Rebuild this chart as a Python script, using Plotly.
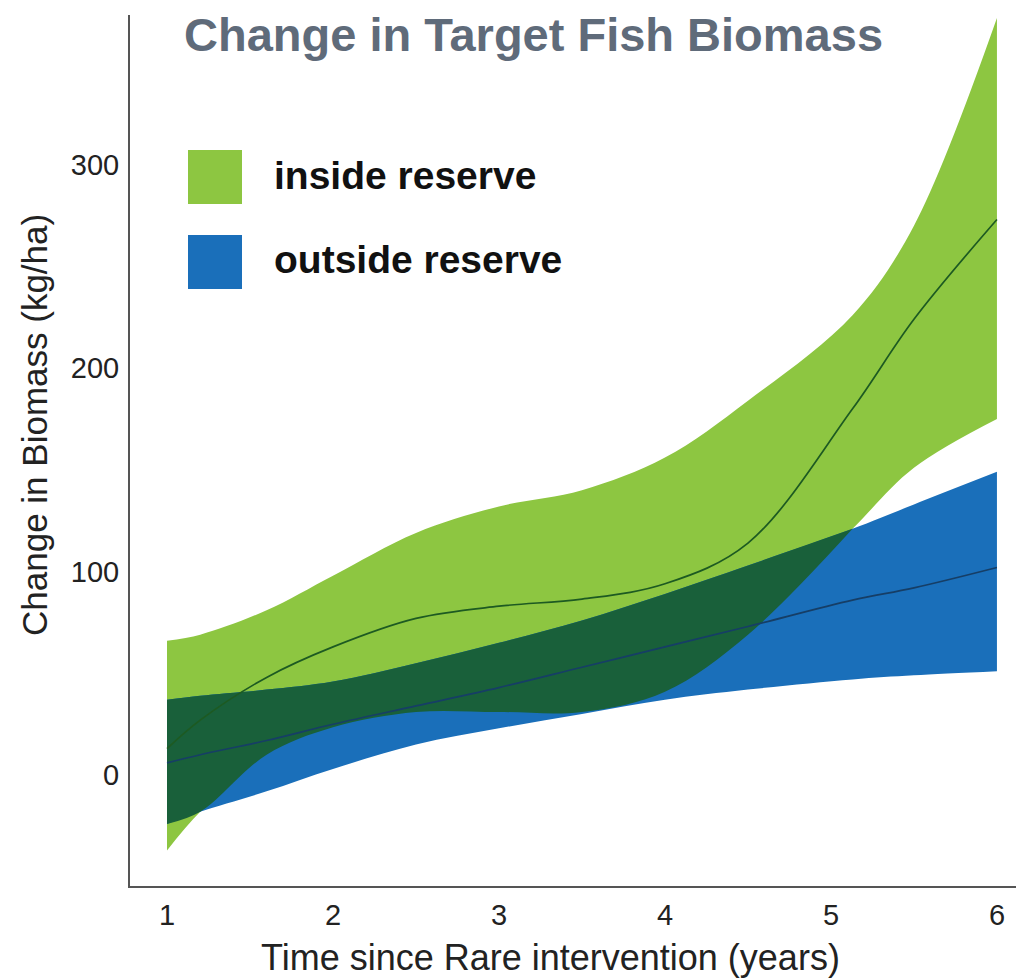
import plotly.graph_objects as go

# ---- data ----
years = [1.0, 1.2, 1.6, 2.0, 2.5, 3.0, 3.5, 4.0, 4.5, 5.13, 5.5, 6.0]
inside_upper = [66, 69, 81, 98, 119, 132, 140, 156, 184, 226, 270, 372]
inside_mean = [13, 27, 48, 63, 77, 83, 86.5, 94, 114, 180, 224, 273]
inside_lower = [-37, -18, 10, 23.5, 31, 31, 31, 41, 69, 121, 151, 175]
outside_upper = [37, 39, 42, 46, 55, 65, 76, 89, 103, 121, 133, 149]
outside_mean = [6, 10, 17, 25, 34, 43, 53, 63, 73, 86, 92, 102]
outside_lower = [-24, -18, -8, 3, 15, 23, 30, 37, 42, 47, 49, 51]

x_ticks = [1, 2, 3, 4, 5, 6]
y_ticks = [0, 100, 200, 300]
series_names = ["inside reserve", "outside reserve"]

GREEN = "#8dc641"
BLUE = "#1a6fba"
DARK = "#19603a"
GREEN_LINE = "#1d5a22"
BLUE_LINE = "#163e66"
SMOOTH = 1.0

# overlap of the two bands (derived from the data above)
ov_x, ov_lo, ov_hi = [], [], []
for x, gl, bl, bu in zip(years, inside_lower, outside_lower, outside_upper):
    if gl <= bu:
        ov_x.append(x)
        ov_lo.append(max(gl, bl))
        ov_hi.append(bu)

fig = go.Figure()

def band(xs, lo, hi, color):
    fig.add_trace(go.Scatter(x=xs, y=lo, mode="lines",
                             line=dict(width=0, shape="spline", smoothing=SMOOTH),
                             showlegend=False, hoverinfo="skip"))
    fig.add_trace(go.Scatter(x=xs, y=hi, mode="lines",
                             line=dict(width=0, shape="spline", smoothing=SMOOTH),
                             fill="tonexty", fillcolor=color, showlegend=False, hoverinfo="skip"))

band(years, inside_lower, inside_upper, GREEN)
band(years, outside_lower, outside_upper, BLUE)
band(ov_x, ov_lo, ov_hi, DARK)

fig.add_trace(go.Scatter(x=years, y=inside_mean, mode="lines",
                         line=dict(color=GREEN_LINE, width=1.7, shape="spline", smoothing=SMOOTH),
                         name=series_names[0], showlegend=False))
fig.add_trace(go.Scatter(x=years, y=outside_mean, mode="lines",
                         line=dict(color=BLUE_LINE, width=1.7, shape="spline", smoothing=SMOOTH),
                         name=series_names[1], showlegend=False))

# page body has an 8px margin: figure is drawn at (8, 8)
OFF = 8
W, H = 1016, 972
ML, MR, MT, MB = 122, 0, 7, 94
PW, PH = W - ML - MR, H - MT - MB

def px(xp):  # reference-screen x pixel -> paper
    return (xp - OFF - ML) / PW

def py(yp):  # reference-screen y pixel -> paper
    return (H - MB - (yp - OFF)) / PH

FONT = "Liberation Sans, Arial, Helvetica, sans-serif"

shapes = [
    dict(type="rect", xref="paper", yref="paper", x0=px(188), x1=px(242), y0=py(204), y1=py(150),
         fillcolor=GREEN, line=dict(width=0)),
    dict(type="rect", xref="paper", yref="paper", x0=px(188), x1=px(242), y0=py(289), y1=py(235),
         fillcolor=BLUE, line=dict(width=0)),
]

annotations = [
    dict(text="<b>Change in Target Fish Biomass</b>", xref="paper", yref="paper",
         x=px(533), y=py(34), xanchor="center", yanchor="middle", showarrow=False,
         font=dict(family=FONT, size=47, color="#5f6b7a")),
    dict(text="<b>" + series_names[0] + "</b>", xref="paper", yref="paper",
         x=px(272), y=py(176), xanchor="left", yanchor="middle", showarrow=False,
         font=dict(family=FONT, size=39, color="#111111")),
    dict(text="<b>" + series_names[1] + "</b>", xref="paper", yref="paper",
         x=px(272), y=py(260), xanchor="left", yanchor="middle", showarrow=False,
         font=dict(family=FONT, size=39, color="#111111")),
    dict(text="Time since Rare intervention (years)", xref="paper", yref="paper",
         x=px(550), y=py(957), xanchor="center", yanchor="middle", showarrow=False,
         font=dict(family=FONT, size=36, color="#222222")),
    dict(text="Change in Biomass (kg/ha)", xref="paper", yref="paper",
         x=px(35), y=py(425), xanchor="center", yanchor="middle", showarrow=False, textangle=-90,
         font=dict(family=FONT, size=35, color="#222222")),
]

fig.update_layout(
    width=W, height=H,
    margin=dict(l=ML, r=MR, t=MT, b=MB, pad=0),
    paper_bgcolor="white", plot_bgcolor="white",
    shapes=shapes, annotations=annotations,
    xaxis=dict(range=[0.777, 6.163], tickvals=x_ticks, ticktext=[str(v) for v in x_ticks],
               showgrid=False, zeroline=False, showline=True, linecolor="#555555", linewidth=2,
               ticks="", ticklabelstandoff=2,
               tickfont=dict(family=FONT, size=29, color="#222222")),
    yaxis=dict(range=[-54.5, 373.5], tickvals=y_ticks, ticktext=[str(v) for v in y_ticks],
               showgrid=False, zeroline=False, showline=True, linecolor="#555555", linewidth=2,
               ticks="", ticklabelstandoff=3,
               tickfont=dict(family=FONT, size=29, color="#222222")),
)

fig.write_html("out.html")
